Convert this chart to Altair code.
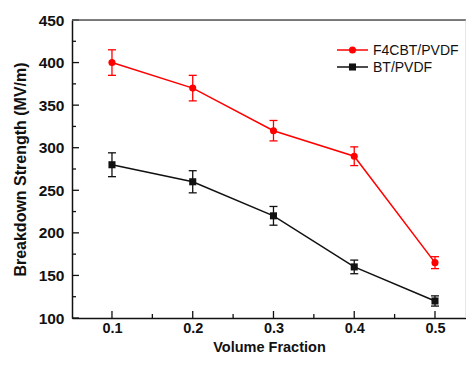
import altair as alt
import pandas as pd

# ---- data ----
x_vals = [0.1, 0.2, 0.3, 0.4, 0.5]
f4cbt = [400, 370, 320, 290, 165]
f4cbt_err = [15, 15, 12, 11, 7]
bt = [280, 260, 220, 160, 120]
bt_err = [14, 13, 11, 8, 6]
series_names = ["F4CBT/PVDF", "BT/PVDF"]
series_colors = ["#ff0000", "#111111"]
series_shapes = ["circle", "square"]
x_major = [0.1, 0.2, 0.3, 0.4, 0.5]
x_minor = [0.15, 0.25, 0.35, 0.45]
y_major = [100, 150, 200, 250, 300, 350, 400, 450]
y_minor = [125, 175, 225, 275, 325, 375, 425]

rows = []
for name, vals, errs in ((series_names[0], f4cbt, f4cbt_err),
                         (series_names[1], bt, bt_err)):
    for xv, v, e in zip(x_vals, vals, errs):
        rows.append(dict(series=name, x=xv, y=v, lo=v - e, hi=v + e))
df = pd.DataFrame(rows)
leg_df = pd.DataFrame({"series": series_names})

W, H = 394, 298
FONT = "Liberation Sans"
xs = alt.Scale(domain=[0.0505, 0.5384], nice=False, zero=False)
ys = alt.Scale(domain=[100, 450], nice=False, zero=False)
col = alt.Scale(domain=series_names, range=series_colors)
shp = alt.Scale(domain=series_names, range=series_shapes)

base = alt.Chart(df)

x_enc = alt.X("x:Q", scale=xs,
              axis=alt.Axis(values=x_major, format=".1f", title="Volume Fraction",
                            grid=False, ticks=False, domainColor="#111", domainWidth=1.5,
                            labelFont=FONT, labelFontSize=14.5, labelFontWeight="bold",
                            labelColor="#111", labelPadding=3,
                            titleFont=FONT, titleFontSize=14.5, titleFontWeight="bold",
                            titleColor="#111", titleBaseline="alphabetic", titleY=33))
y_enc = alt.Y("y:Q", scale=ys,
              axis=alt.Axis(values=y_major, title="Breakdown Strength (MV/m)",
                            grid=False, ticks=False, domainColor="#111", domainWidth=1.5,
                            labelFont=FONT, labelFontSize=15.5, labelFontWeight="bold",
                            labelColor="#111", labelPadding=8,
                            titleFont=FONT, titleFontSize=16, titleFontWeight="bold",
                            titleColor="#111", titlePadding=10))

no_leg_color = alt.Color("series:N", scale=col, legend=None)

lines = base.mark_line(strokeWidth=1.5).encode(x=x_enc, y=y_enc, color=no_leg_color)

err = base.mark_rule(strokeWidth=1.3).encode(
    x="x:Q", y="lo:Q", y2="hi:Q", color=no_leg_color)
cap_lo = base.mark_tick(orient="horizontal", size=8, thickness=1.3, opacity=1).encode(
    x="x:Q", y="lo:Q", color=no_leg_color)
cap_hi = base.mark_tick(orient="horizontal", size=8, thickness=1.3, opacity=1).encode(
    x="x:Q", y="hi:Q", color=no_leg_color)

pts = base.mark_point(filled=True, opacity=1, size=50).encode(
    x="x:Q", y="y:Q", color=no_leg_color,
    shape=alt.Shape("series:N", scale=shp, legend=None))

# inward ticks
xmaj = alt.Chart(pd.DataFrame({"t": x_major})).mark_rule(color="#111", strokeWidth=1.3).encode(
    x=alt.X("t:Q", scale=xs), y=alt.value(H), y2=alt.value(H - 7))
xmin = alt.Chart(pd.DataFrame({"t": x_minor})).mark_rule(color="#111", strokeWidth=1.3).encode(
    x=alt.X("t:Q", scale=xs), y=alt.value(H), y2=alt.value(H - 4))
ymaj = alt.Chart(pd.DataFrame({"t": y_major})).mark_rule(color="#111", strokeWidth=1.3).encode(
    y=alt.Y("t:Q", scale=ys), x=alt.value(0), x2=alt.value(7))
ymin = alt.Chart(pd.DataFrame({"t": y_minor})).mark_rule(color="#111", strokeWidth=1.3).encode(
    y=alt.Y("t:Q", scale=ys), x=alt.value(0), x2=alt.value(4))

top_border = alt.Chart(pd.DataFrame({"a": [0]})).mark_rule(color="#555", strokeWidth=1.5).encode(
    x=alt.value(0), x2=alt.value(W), y=alt.value(0))
right_border = alt.Chart(pd.DataFrame({"a": [0]})).mark_rule(color="#d0d0d0", strokeWidth=1).encode(
    x=alt.value(W), y=alt.value(0), y2=alt.value(H))

# legend: one row per series
legend_rows_y = [30, 47]
leg_layers = []
for name, ry in zip(series_names, legend_rows_y):
    lb = alt.Chart(leg_df).transform_filter(alt.datum.series == name)
    leg_layers.append(lb.mark_rule(strokeWidth=1.5).encode(
        y=alt.value(ry), x=alt.value(265), x2=alt.value(296), color=no_leg_color))
    leg_layers.append(lb.mark_point(filled=True, opacity=1, size=50).encode(
        y=alt.value(ry), x=alt.value(280.5), color=no_leg_color,
        shape=alt.Shape("series:N", scale=shp, legend=None)))
    leg_layers.append(lb.mark_text(align="left", baseline="middle", font=FONT, fontSize=14,
                                   color="#111", dy=1).encode(
        y=alt.value(ry), x=alt.value(301), text="series:N"))

chart = alt.layer(lines, err, cap_lo, cap_hi, pts, xmaj, xmin, ymaj, ymin,
                  top_border, right_border, *leg_layers).properties(
    width=W, height=H,
    autosize=alt.AutoSizeParams(type="none"),
    padding={"left": 64, "top": 12, "right": 0, "bottom": 36},
).configure_view(stroke=None).configure(background="white")

chart.save("out.html", embed_options={"renderer": "svg", "actions": False})
